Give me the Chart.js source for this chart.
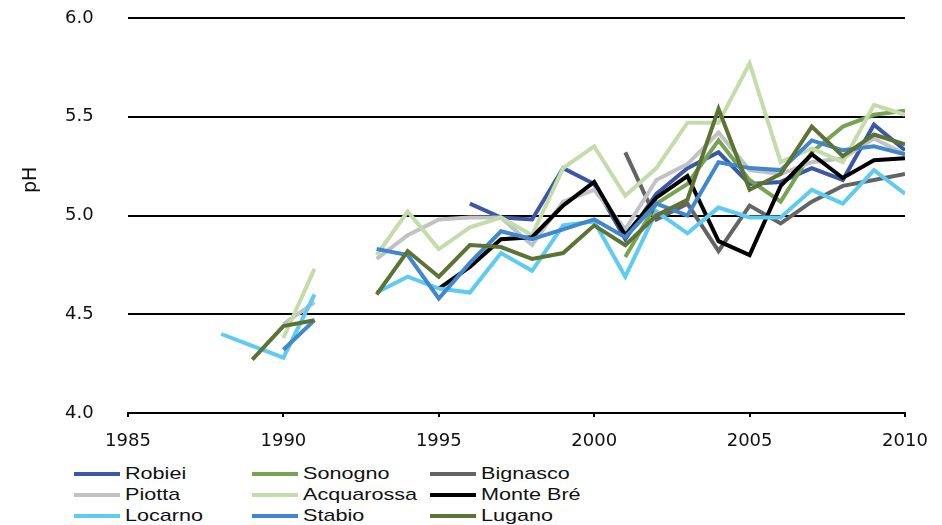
<!DOCTYPE html>
<html>
<head>
<meta charset="utf-8">
<script src="https://cdn.jsdelivr.net/npm/chart.js@4.4.1/dist/chart.umd.min.js"></script>
<style>
  body { margin: 0; background: #fff; font-family: "Liberation Sans", Arial, sans-serif; }
  #wrap { position: relative; width: 942px; height: 525px; }
  #legend {
    position: absolute; left: 74px; top: 463px;
    display: grid; grid-template-columns: 178px 178px 178px; grid-auto-rows: 21px;
  }
  .item { display: flex; align-items: center; font-size: 17px; color: #111; white-space: nowrap; }
  .swatch { width: 46px; height: 4px; margin-right: 5px; flex: none; }
  .name { display: inline-block; transform: scaleX(1.27); transform-origin: left center; }
</style>
</head>
<body>
<div id="wrap">
  <canvas id="chart" width="942" height="455"></canvas>
  <div id="legend"></div>
</div>
<script>
// pH by station, 1988-2010 (null = no measurement)
const years = [1988, 1989, 1990, 1991, 1992, 1993, 1994, 1995, 1996, 1997, 1998, 1999,
               2000, 2001, 2002, 2003, 2004, 2005, 2006, 2007, 2008, 2009, 2010];
const xTicks = [1985, 1990, 1995, 2000, 2005, 2010];
const yTicks = [4.0, 4.5, 5.0, 5.5, 6.0];

const stations = ["Robiei", "Sonogno", "Bignasco", "Piotta", "Acquarossa", "Monte Bré", "Locarno", "Stabio", "Lugano"];
const colors = ["#3a57a8", "#77a352", "#636466", "#c0c2c4", "#c3dcaa", "#000000", "#5ecbf2", "#3f88cf", "#5d7334"];

const robiei     = [null, null, null, null, null, null, null, null, 5.06, 4.99, 4.98, 5.24, 5.16, 4.88, 5.11, 5.24, 5.32, 5.16, 5.17, 5.24, 5.18, 5.46, 5.33];
const sonogno    = [null, null, null, null, null, null, null, null, null, null, null, null, null, 4.79, 5.06, 5.16, 5.38, 5.18, 5.07, 5.32, 5.45, 5.51, 5.53];
const bignasco   = [null, null, null, null, null, null, null, null, null, null, null, null, null, 5.32, 4.98, 5.06, 4.82, 5.05, 4.96, 5.07, 5.15, 5.18, 5.21];
const piotta     = [null, null, 4.45, 4.56, null, 4.78, 4.90, 4.98, 4.99, 4.99, 4.85, 5.07, 5.13, 4.93, 5.18, 5.26, 5.42, 5.23, 5.21, 5.27, 5.29, 5.39, 5.31];
const acquarossa = [null, null, 4.38, 4.73, null, 4.80, 5.02, 4.83, 4.94, 4.99, 4.90, 5.24, 5.35, 5.10, 5.24, 5.47, 5.47, 5.77, 5.27, 5.34, 5.27, 5.56, 5.51];
const monteBre   = [null, null, null, null, null, null, null, 4.63, 4.74, 4.88, 4.89, 5.05, 5.17, 4.90, 5.09, 5.20, 4.87, 4.80, 5.15, 5.31, 5.19, 5.28, 5.29];
const locarno    = [4.40, 4.34, 4.28, 4.60, null, 4.61, 4.69, 4.63, 4.61, 4.81, 4.72, 4.95, 4.97, 4.69, 5.02, 4.91, 5.04, 4.99, 4.99, 5.13, 5.06, 5.23, 5.11];
const stabio     = [null, null, 4.32, 4.47, null, 4.83, 4.80, 4.58, 4.76, 4.92, 4.88, 4.93, 4.98, 4.89, 5.06, 5.00, 5.27, 5.24, 5.23, 5.38, 5.33, 5.35, 5.31];
const lugano     = [null, 4.27, 4.44, 4.47, null, 4.60, 4.82, 4.69, 4.85, 4.84, 4.78, 4.81, 4.95, 4.85, 5.00, 5.08, 5.54, 5.13, 5.21, 5.45, 5.30, 5.41, 5.36];

const seriesValues = [robiei, sonogno, bignasco, piotta, acquarossa, monteBre, locarno, stabio, lugano];

const TICK_FONT = "'DejaVu Sans', sans-serif";

// rotated axis title drawn beside the y labels
const yTitle = {
  id: "yTitle",
  afterDraw(chart) {
    const { ctx, chartArea } = chart;
    ctx.save();
    ctx.translate(31, chartArea.top + chartArea.height * 0.41);
    ctx.rotate(-Math.PI / 2);
    ctx.font = "19px " + TICK_FONT;
    ctx.fillStyle = "#111";
    ctx.textAlign = "center";
    ctx.textBaseline = "middle";
    ctx.fillText("pH", 0, 0);
    ctx.restore();
  }
};

const datasets = stations.map((name, i) => ({
  label: name,
  data: years.map((yr, j) => ({ x: yr, y: seriesValues[i][j] })),
  borderColor: colors[i],
  backgroundColor: colors[i],
  borderWidth: 4,
  pointRadius: 0,
  tension: 0,
  spanGaps: false,
  order: stations.length - i, // later series on top, like the source
}));

new Chart(document.getElementById("chart"), {
  type: "line",
  data: { datasets },
  options: {
    responsive: false,
    animation: false,
    devicePixelRatio: 1,
    layout: { padding: { top: 18, right: 37, left: 65, bottom: 0 } },
    plugins: { legend: { display: false }, tooltip: { enabled: false } },
    scales: {
      x: {
        type: "linear",
        min: xTicks[0],
        max: xTicks[xTicks.length - 1],
        afterBuildTicks: (s) => { s.ticks = xTicks.map(v => ({ value: v })); },
        afterFit: (s) => { s.height = 42; },
        ticks: { callback: (v) => String(v), color: "#111", font: { family: TICK_FONT, size: 18 }, padding: 14, maxRotation: 0 },
        grid: { drawOnChartArea: false, drawTicks: true, tickLength: 4, color: "#000", lineWidth: 2 },
        border: { display: true, color: "#000", width: 2 },
      },
      y: {
        min: yTicks[0],
        max: yTicks[yTicks.length - 1],
        afterBuildTicks: (s) => { s.ticks = yTicks.map(v => ({ value: v })); },
        afterFit: (s) => { s.width = 63; },
        ticks: { callback: (v) => Number(v).toFixed(1), color: "#111", font: { family: TICK_FONT, size: 18 }, padding: 0, crossAlign: "far" },
        grid: { drawTicks: false, color: "#000", lineWidth: 2 },
        border: { display: false },
      },
    },
  },
  plugins: [yTitle],
});

// legend: three columns, filled row by row
const legend = document.getElementById("legend");
stations.forEach((name, i) => {
  const item = document.createElement("div");
  item.className = "item";
  item.innerHTML = `<span class="swatch" style="background:${colors[i]}"></span><span class="name">${name}</span>`;
  legend.appendChild(item);
});
</script>
</body>
</html>
